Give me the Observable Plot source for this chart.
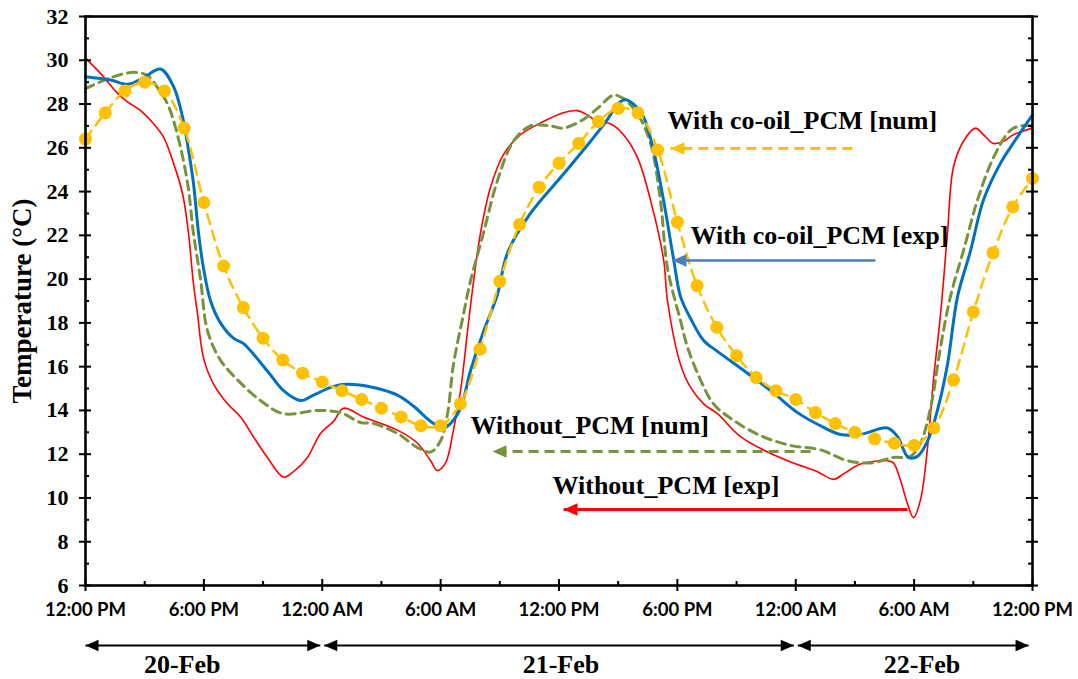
<!DOCTYPE html>
<html><head><meta charset="utf-8">
<script src="https://cdn.jsdelivr.net/npm/d3@7"></script>
<script src="https://cdn.jsdelivr.net/npm/@observablehq/plot@0.6"></script>
<style>
html,body{margin:0;padding:0;background:#fff;}
#chart{width:1078px;height:679px;}
</style></head><body><div id="chart"></div>
<script>
// ---------- axis ticks ----------
const tickHours = [0, 6, 12, 18, 24, 30, 36, 42, 48];
const tickLabels = ["12:00 PM", "6:00 PM", "12:00 AM", "6:00 AM", "12:00 PM", "6:00 PM", "12:00 AM", "6:00 AM", "12:00 PM"];
const minorHours = [3, 9, 15, 21, 27, 33, 39, 45];
const yTicks = [6, 8, 10, 12, 14, 16, 18, 20, 22, 24, 26, 28, 30, 32];
const yMinor = [7, 9, 11, 13, 15, 17, 19, 21, 23, 25, 27, 29, 31];

// ---------- series: hours since 12:00 PM 20-Feb, temperature (°C) ----------
const withoutExpHours = [0, 0.76, 1.62, 2.13, 2.79, 3.45, 3.95, 4.46, 4.92, 5.22, 5.47, 5.68, 5.98, 6.49, 7.2, 7.86, 8.51, 9.22, 10.04, 10.54, 11.25, 11.91, 12.57, 13.08, 14.09, 15.81, 16.83, 17.49, 17.84, 18.25, 18.65, 19.01, 19.36, 19.67, 20.02, 20.53, 21.19, 22.05, 23.21, 24.23, 24.94, 25.44, 25.95, 26.61, 27.27, 27.98, 28.64, 29.3, 29.5, 30.16, 30.67, 31.33, 32.03, 33.2, 34.57, 35.88, 37.1, 37.91, 38.42, 39.28, 40.65, 40.95, 41.31, 41.66, 41.97, 42.32, 42.68, 42.98, 43.34, 43.69, 43.99, 44.5, 45.11, 45.51, 46.02, 46.53, 47.03, 48];
const withoutExpTemp = [30.1, 29.4, 28.5, 28.1, 27.7, 27.1, 26.5, 25.3, 23.9, 22.1, 19.8, 18.4, 16.4, 15.2, 14.3, 13.7, 12.8, 11.85, 10.95, 11.2, 11.85, 12.95, 13.5, 14.1, 13.7, 13.1, 12.5, 11.7, 11.25, 11.6, 13.1, 14.9, 17.6, 19.9, 22.1, 24.2, 25.7, 26.6, 27.2, 27.6, 27.7, 27.5, 27.2, 27.1, 26.6, 25.55, 23.6, 20.9, 19.0, 16.1, 15.05, 14.3, 13.85, 12.8, 12.1, 11.6, 11.2, 10.85, 11.1, 11.55, 11.7, 11.6, 10.8, 9.75, 9.1, 9.9, 12.3, 15.4, 18.4, 22.1, 25.1, 26.3, 26.9, 26.6, 26.2, 26.3, 26.6, 26.9];

const withoutNumHours = [0, 1.27, 2.43, 3.14, 3.65, 4.16, 4.66, 5.17, 5.47, 5.83, 6.18, 6.84, 7.7, 8.87, 10.04, 11.76, 12.92, 13.94, 14.6, 15.81, 16.83, 17.49, 17.99, 18.35, 18.65, 19.16, 19.51, 20.17, 20.88, 21.69, 22.55, 23.57, 24.23, 25.24, 25.95, 26.76, 27.27, 27.98, 28.64, 29.14, 29.5, 30.16, 30.51, 31.17, 31.83, 32.84, 34.21, 35.73, 37.25, 38.62, 39.79, 40.95, 41.81, 42.32, 42.83, 43.34, 43.84, 44.5, 45.21, 46.02, 46.88, 47.39, 48];
const withoutNumTemp = [28.7, 29.2, 29.45, 29.3, 28.75, 28.0, 26.6, 24.4, 22.1, 20.0, 17.65, 16.3, 15.4, 14.45, 13.85, 14.0, 13.9, 13.45, 13.4, 12.95, 12.3, 12.1, 12.6, 13.85, 16.1, 18.4, 19.9, 22.1, 24.5, 26.3, 27.0, 27.0, 26.9, 27.3, 27.8, 28.4, 28.25, 27.55, 26.2, 23.6, 20.5, 18.1, 16.9, 15.4, 14.3, 13.55, 12.85, 12.4, 12.2, 11.7, 11.6, 11.85, 11.9, 12.5, 14.1, 16.9, 19.2, 21.3, 23.6, 25.55, 26.8, 27.0, 27.0];

const withExpHours = [0, 1.27, 2.13, 2.94, 3.8, 4.46, 4.92, 5.22, 5.47, 5.73, 5.98, 6.34, 6.84, 7.5, 8.01, 9.22, 10.04, 10.9, 11.56, 12.57, 13.28, 14.6, 15.81, 16.62, 17.49, 18.14, 18.5, 19.01, 19.51, 20.17, 20.88, 21.39, 22.55, 24.23, 25.6, 26.46, 26.96, 27.37, 27.78, 28.29, 28.79, 29.3, 29.81, 30.16, 30.67, 31.33, 32.03, 33.55, 34.87, 36.09, 37.25, 38.27, 39.28, 40.65, 41.16, 41.71, 42.17, 42.68, 43.18, 43.69, 44.2, 44.86, 45.51, 46.38, 47.24, 48];
const withExpTemp = [29.25, 29.1, 28.9, 29.2, 29.6, 28.8, 27.4, 25.9, 24.4, 22.1, 20.5, 19.0, 18.0, 17.3, 17.05, 15.8, 14.9, 14.45, 14.7, 15.1, 15.2, 15.05, 14.7, 14.2, 13.5, 13.2, 13.4, 14.1, 15.8, 17.6, 19.3, 21.2, 23.0, 24.8, 26.3, 27.3, 28.0, 28.2, 28.0, 27.4, 25.9, 23.6, 20.9, 19.2, 18.2, 17.2, 16.7, 15.7, 14.8, 13.9, 13.3, 12.9, 12.9, 13.2, 12.8, 11.85, 11.9, 12.6, 14.0, 16.1, 19.2, 21.3, 23.6, 25.3, 26.5, 27.5];

const withNumHours = [0, 1, 2, 3, 4, 5, 6, 7, 8, 9, 10, 11, 12, 13, 14, 15, 16, 17, 18, 19, 20, 21, 22, 23, 24, 25, 26, 27, 28, 29, 30, 31, 32, 33, 34, 35, 36, 37, 38, 39, 40, 41, 42, 43, 44, 45, 46, 47, 48];
const withNumTemp = [26.4, 27.6, 28.6, 29.0, 28.6, 26.9, 23.5, 20.6, 18.7, 17.3, 16.3, 15.7, 15.3, 14.9, 14.5, 14.1, 13.7, 13.3, 13.3, 14.3, 16.8, 19.9, 22.5, 24.2, 25.3, 26.2, 27.2, 27.8, 27.6, 25.9, 22.6, 19.7, 17.8, 16.5, 15.5, 14.9, 14.5, 13.9, 13.4, 13.0, 12.7, 12.5, 12.4, 13.2, 15.4, 18.5, 21.2, 23.3, 24.6];

// ---------- annotations (data units) ----------
const annLabels = ["With co-oil_PCM [num]", "With co-oil_PCM [exp]", "Without_PCM [num]", "Without_PCM [exp]"];
const annTextX = [29.5, 30.66, 19.51, 23.67];
const annTextY = [27.25, 21.99, 13.31, 10.57];
const annTipX = [29.65, 29.75, 20.63, 24.23];
const annTailX = [38.87, 40.04, 36.75, 41.66];
const annArrowY = [25.97, 20.85, 12.12, 9.47];

// ---------- day bands ----------
const days = ["20-Feb", "21-Feb", "22-Feb"];
const dayStart = [0, 12.1, 36.1];
const dayEnd = [11.9, 35.9, 47.8];
const dayLabelAt = [4.9, 24.1, 42.4];

// ---------- build ----------
const rows = (hs, ts) => hs.map((h, i) => ({h, t: ts[i]}));
const redRows = rows(withoutExpHours, withoutExpTemp);
const greenRows = rows(withoutNumHours, withoutNumTemp);
const blueRows = rows(withExpHours, withExpTemp);
const yellowRows = rows(withNumHours, withNumTemp);

const colRed = "#FF0000", colGreen = "#77933C", colBlue = "#0070C0", colYellow = "#FFC000", colBlueArrow = "#4a7ebb";
const annColors = [colYellow, colBlueArrow, colGreen, colRed];
const annDash = ["10,6", null, "10,6", null];
const annWidth = [3, 2.5, 3, 3];

const W = 1078, H = 679, ML = 85, MR = 46, MT = 16, MB = 94;
const FW = W - ML - MR, FH = H - MT - MB;
const serif = "'Liberation Serif', 'Times New Roman', serif";
const yMin = 6;

const annRows = annLabels.map((label, i) => ({label, tx: annTextX[i], ty: annTextY[i], tip: annTipX[i], tail: annTailX[i], ay: annArrowY[i], color: annColors[i]}));
const dayRows = days.map((label, i) => ({label, start: dayStart[i], end: dayEnd[i], mid: dayLabelAt[i]}));

// filled triangle symbols, tip at the anchor point
const triLeft = {draw(ctx, size) { const r = Math.sqrt(size / Math.PI); ctx.moveTo(0, 0); ctx.lineTo(r, -0.45 * r); ctx.lineTo(r, 0.45 * r); ctx.closePath(); }};
const triRight = {draw(ctx, size) { const r = Math.sqrt(size / Math.PI); ctx.moveTo(0, 0); ctx.lineTo(-r, -0.45 * r); ctx.lineTo(-r, 0.45 * r); ctx.closePath(); }};

const annArrowMarks = annRows.map((d, i) => Plot.link([d], {
  x1: "tail", x2: "tip", y1: "ay", y2: "ay",
  stroke: d.color, strokeWidth: annWidth[i],
  ...(annDash[i] ? {strokeDasharray: annDash[i]} : {})
}));

const plot = Plot.plot({
  width: W, height: H,
  marginLeft: ML, marginRight: MR, marginTop: MT, marginBottom: MB,
  x: {domain: [0, 48]},
  y: {domain: [6, 32]},
  style: {background: "white", color: "black", overflow: "visible"},
  marks: [
    Plot.line(redRows, {x: "h", y: "t", stroke: colRed, strokeWidth: 1.6, curve: "catmull-rom"}),
    Plot.line(greenRows, {x: "h", y: "t", stroke: colGreen, strokeWidth: 3, strokeDasharray: "9,6", curve: "catmull-rom"}),
    Plot.line(blueRows, {x: "h", y: "t", stroke: colBlue, strokeWidth: 3, curve: "catmull-rom"}),
    Plot.line(yellowRows, {x: "h", y: "t", stroke: colYellow, strokeWidth: 2.5, strokeDasharray: "10,7", curve: "catmull-rom"}),
    Plot.dot(yellowRows, {x: "h", y: "t", r: 6.5, fill: colYellow, stroke: "none"}),
    ...annArrowMarks,
    Plot.dot(annRows, {x: "tip", y: "ay", symbol: triLeft, r: 14, fill: d => d.color, stroke: "none"}),
    Plot.text(annRows, {x: "tx", y: "ty", text: "label", textAnchor: "start", fontSize: 26, fontFamily: serif, fontWeight: "bold", fill: "black"}),
    Plot.frame({stroke: "black", strokeWidth: 2.6}),
    Plot.tickX(tickHours, {x: d => d, insetTop: FH - 6, insetBottom: -6, stroke: "black", strokeWidth: 2}),
    Plot.tickX(minorHours, {x: d => d, insetTop: FH - 4, stroke: "black", strokeWidth: 2}),
    Plot.tickY(yTicks, {y: d => d, insetLeft: -6, insetRight: FW - 6, stroke: "black", strokeWidth: 2}),
    Plot.tickY(yMinor, {y: d => d, insetRight: FW - 4, stroke: "black", strokeWidth: 2}),
    Plot.tickY(yTicks, {y: d => d, insetLeft: FW - 6, insetRight: -6, stroke: "black", strokeWidth: 2}),
    Plot.tickY(yMinor, {y: d => d, insetLeft: FW - 4, stroke: "black", strokeWidth: 2}),
    Plot.axisX(tickHours, {tickSize: 0, tickPadding: 17, tickFormat: d => tickLabels[tickHours.indexOf(d)], fontSize: 18.5, fontFamily: "Lato", fontWeight: "bold", label: null}),
    Plot.axisY(yTicks, {tickSize: 0, tickPadding: 17, fontSize: 22, fontFamily: serif, fontWeight: "bold", label: null}),
    Plot.text(["Temperature (°C)"], {frameAnchor: "left", textAnchor: "middle", lineAnchor: "middle", dx: -63, rotate: -90, fontSize: 27, fontFamily: serif, fontWeight: "bold", fill: "black"}),
    Plot.link(dayRows, {x1: "start", x2: "end", y1: () => yMin, y2: () => yMin, dy: 60, stroke: "black", strokeWidth: 2}),
    Plot.dot(dayRows, {x: "start", y: () => yMin, dy: 60, symbol: triLeft, r: 13, fill: "black", stroke: "none"}),
    Plot.dot(dayRows, {x: "end", y: () => yMin, dy: 60, symbol: triRight, r: 13, fill: "black", stroke: "none"}),
    Plot.text(dayRows, {x: "mid", text: "label", frameAnchor: "bottom", textAnchor: "middle", lineAnchor: "middle", dy: 79, fontSize: 26, fontFamily: serif, fontWeight: "bold", fill: "black"})
  ]
});

document.getElementById("chart").appendChild(plot);
</script></body></html>
